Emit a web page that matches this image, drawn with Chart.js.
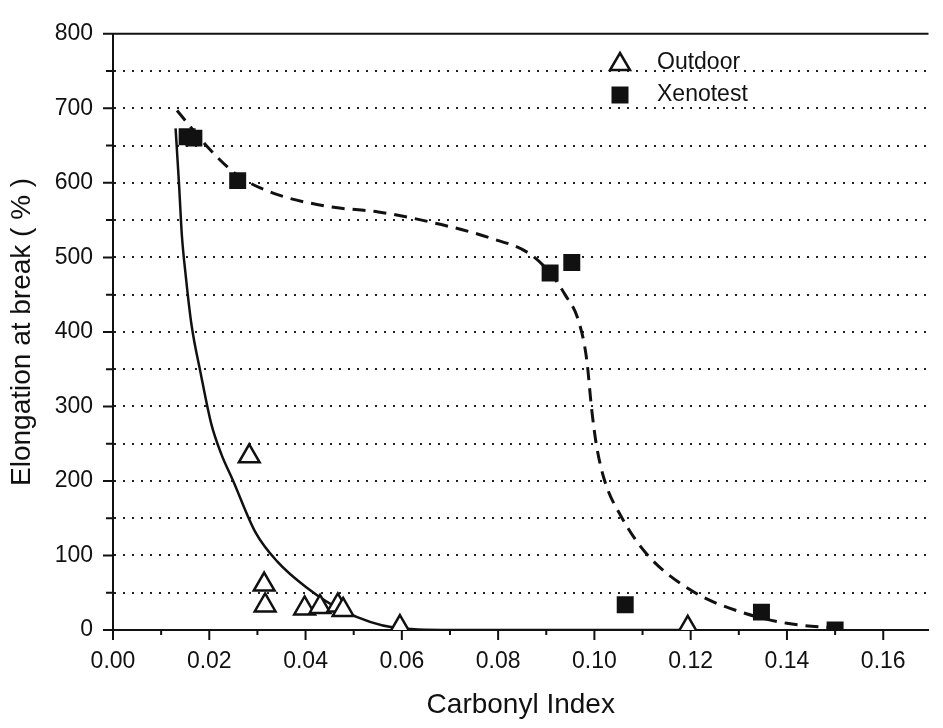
<!DOCTYPE html>
<html>
<head>
<meta charset="utf-8">
<script src="https://cdn.jsdelivr.net/npm/chart.js@4.4.0/dist/chart.umd.min.js"></script>
<style>
  html, body { margin: 0; padding: 0; background: #fff; }
</style>
</head>
<body>
<canvas id="elongChart" width="943" height="728"></canvas>
<script>
// measured points
const outdoorX = [0.0283, 0.0314, 0.0316, 0.0398, 0.0430, 0.0467, 0.0478, 0.0596, 0.1194];
const outdoorY = [233, 61, 33, 29, 31, 33, 27, 4, 3];
const xenoX = [0.0154, 0.0168, 0.0259, 0.0908, 0.0953, 0.1064, 0.1347, 0.1500];
const xenoY = [662, 660, 603, 479, 493, 34, 24, 0];

// hand drawn trend curves
const outdoorFitX = [0.0130, 0.0137, 0.0143, 0.0151, 0.0163, 0.0182, 0.0204, 0.0225, 0.0249, 0.0296, 0.0341, 0.0402, 0.0477, 0.0586, 0.0700, 0.1200];
const outdoorFitY = [673, 600, 530, 476, 410, 345, 277, 236, 201, 131, 92, 57, 26, 3, 0, 0];
const xenoFitX = [0.0133, 0.0198, 0.0259, 0.0334, 0.0450, 0.0551, 0.0682, 0.0784, 0.0865, 0.0908, 0.0939, 0.0967, 0.0984, 0.0994, 0.1004, 0.1021, 0.1055, 0.1110, 0.1204, 0.1300, 0.1400, 0.1510];
const xenoFitY = [697, 647, 610, 586, 568, 561, 544, 526, 505, 479, 450, 415, 363, 298, 249, 201, 153, 101, 52, 25, 9, 2];

const xTickVals = [0, 0.02, 0.04, 0.06, 0.08, 0.10, 0.12, 0.14, 0.16];
const yTickVals = [0, 100, 200, 300, 400, 500, 600, 700, 800];
const seriesNames = ['Outdoor', 'Xenotest'];

const pts = (xs, ys) => xs.map((x, i) => ({ x: x, y: ys[i] }));

// tick marks, top frame line and the in-plot legend
const frameAndLegend = {
    id: 'frameAndLegend',
    afterDraw(chart) {
        const ctx = chart.ctx;
        const area = chart.chartArea;
        const xs = chart.scales.x, ys = chart.scales.y;
        ctx.save();
        ctx.strokeStyle = '#111';
        ctx.lineWidth = 2;
        ctx.beginPath();
        ctx.moveTo(area.left, area.top);
        ctx.lineTo(area.right, area.top);
        ctx.stroke();

        // x ticks: majors + minors halfway
        ctx.beginPath();
        xTickVals.forEach((v, i) => {
            const px = xs.getPixelForValue(v);
            ctx.moveTo(px, area.bottom);
            ctx.lineTo(px, area.bottom + 10);
            if (i < xTickVals.length - 1) {
                const mx = xs.getPixelForValue(v + 0.01);
                ctx.moveTo(mx, area.bottom);
                ctx.lineTo(mx, area.bottom + 5);
            }
        });
        // y ticks
        yTickVals.forEach((v, i) => {
            const py = ys.getPixelForValue(v);
            ctx.moveTo(area.left, py);
            ctx.lineTo(area.left - 10, py);
            if (i < yTickVals.length - 1) {
                const my = ys.getPixelForValue(v + 50);
                ctx.moveTo(area.left, my);
                ctx.lineTo(area.left - 7, my);
            }
        });
        ctx.stroke();

        // legend
        const lx = 620, ly1 = 63, ly2 = 95;
        ctx.lineWidth = 2.5;
        ctx.fillStyle = '#fff';
        ctx.beginPath();
        ctx.moveTo(lx, ly1 - 10);
        ctx.lineTo(lx + 10, ly1 + 7);
        ctx.lineTo(lx - 10, ly1 + 7);
        ctx.closePath();
        ctx.fill();
        ctx.stroke();
        ctx.fillStyle = '#111';
        ctx.fillRect(lx - 8.5, ly2 - 8.5, 17, 17);
        ctx.font = '23px "Liberation Sans", Arial, sans-serif';
        ctx.textBaseline = 'middle';
        ctx.fillText(seriesNames[0], 657, ly1);
        ctx.fillText(seriesNames[1], 657, ly2);
        ctx.restore();
    }
};

window.onload = function() {
    const ctx = document.getElementById('elongChart').getContext('2d');

    new Chart(ctx, {
        type: 'scatter',
        data: {
            datasets: [
                {
                    label: seriesNames[0],
                    data: pts(outdoorX, outdoorY),
                    pointStyle: 'triangle',
                    pointRadius: 12,
                    pointBackgroundColor: '#fff',
                    pointBorderColor: '#111',
                    pointBorderWidth: 2.5
                },
                {
                    label: seriesNames[1],
                    data: pts(xenoX, xenoY),
                    pointStyle: 'rect',
                    pointRadius: 12,
                    pointBackgroundColor: '#111',
                    pointBorderColor: '#111',
                    pointBorderWidth: 0
                },
                {
                    label: 'Outdoor fit',
                    data: pts(outdoorFitX, outdoorFitY),
                    showLine: true,
                    pointRadius: 0,
                    borderColor: '#111',
                    borderWidth: 2.5,
                    cubicInterpolationMode: 'monotone'
                },
                {
                    label: 'Xenotest fit',
                    data: pts(xenoFitX, xenoFitY),
                    showLine: true,
                    pointRadius: 0,
                    borderColor: '#111',
                    borderWidth: 3,
                    borderDash: [13, 8],
                    cubicInterpolationMode: 'monotone'
                }
            ]
        },
        options: {
            responsive: false,
            animation: false,
            layout: { padding: { top: 20, right: 0, left: 0, bottom: 0 } },
            plugins: {
                legend: { display: false },
                tooltip: { enabled: false }
            },
            scales: {
                x: {
                    type: 'linear',
                    min: 0,
                    max: 0.1694,
                    afterBuildTicks: s => { s.ticks = xTickVals.map(v => ({ value: v })); },
                    afterFit: s => { s.height = 98; },
                    grid: { drawOnChartArea: false, drawTicks: false },
                    border: { color: '#111', width: 2 },
                    ticks: {
                        padding: 18,
                        color: '#111',
                        maxRotation: 0,
                        font: { family: '"Liberation Sans", Arial, sans-serif', size: 23 },
                        callback: v => v.toFixed(2)
                    },
                    title: {
                        display: true,
                        text: 'Carbonyl Index',
                        color: '#111',
                        padding: { top: 6, bottom: 6 },
                        font: { family: '"Liberation Sans", Arial, sans-serif', size: 28 }
                    }
                },
                y: {
                    min: 0,
                    max: 800,
                    afterBuildTicks: s => {
                        const t = [];
                        yTickVals.forEach((v, i) => {
                            t.push({ value: v });
                            if (i < yTickVals.length - 1) t.push({ value: v + 50 });
                        });
                        s.ticks = t;
                    },
                    afterFit: s => { s.width = 113; },
                    grid: {
                        drawTicks: false,
                        lineWidth: 2,
                        color: c => (c.tick && (c.tick.value === 0 || c.tick.value === 800)) ? 'rgba(0,0,0,0)' : '#222'
                    },
                    border: { color: '#111', width: 2, dash: [2, 7] },
                    ticks: {
                        padding: 20,
                        color: '#111',
                        font: { family: '"Liberation Sans", Arial, sans-serif', size: 23 },
                        callback: v => (v % 100 === 0 ? String(v) : '')
                    },
                    title: {
                        display: true,
                        text: 'Elongation at break ( % )',
                        color: '#111',
                        padding: { top: 5, bottom: 0 },
                        font: { family: '"Liberation Sans", Arial, sans-serif', size: 28 }
                    }
                }
            }
        },
        plugins: [frameAndLegend]
    });
};
</script>
</body>
</html>
